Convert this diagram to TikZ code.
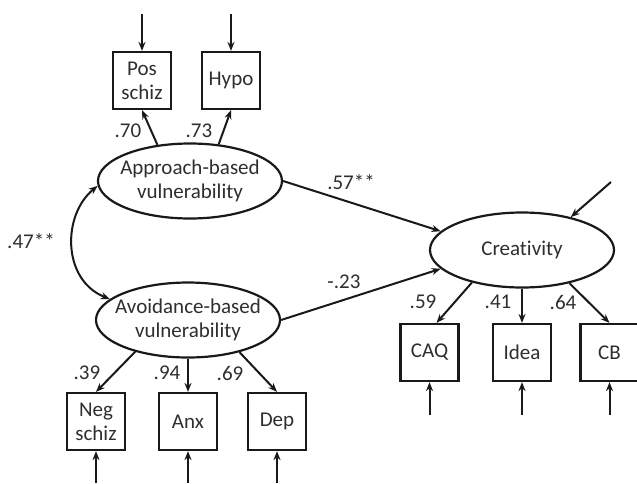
\documentclass[tikz,border=0pt]{standalone}
\usepackage{fontspec}
\setmainfont{Carlito}[Ligatures={NoCommon}]
\usetikzlibrary{shapes.geometric,arrows.meta}
\newcommand{\fitw}[1]{\makebox[80pt]{#1}}
\begin{document}
\begin{tikzpicture}[x=1pt,y=-1pt,
  every node/.style={font=\fontsize{21}{24}\selectfont, text=black!82},
  latent/.style={ellipse, draw=black!90, line width=2.2pt, minimum width=184pt, minimum height=75pt, inner sep=0pt, align=center},
  obs/.style={rectangle, draw=black!90, line width=2.2pt, minimum width=58pt, minimum height=57pt, inner sep=0pt, align=center},
  arr/.style={draw=black!90, line width=2pt, -{Stealth[length=9pt,width=7pt]}},
  darr/.style={draw=black!90, line width=2pt, {Stealth[length=9pt,width=7pt]}-{Stealth[length=9pt,width=7pt]}},
  coef/.style={inner sep=0pt}
]
\useasboundingbox (0,0) rectangle (637,483);
% latent variables
\node[latent] (app) at (190,181) {\fitw{Approach-based}\\\fitw{vulnerability}};
\node[latent] (avo) at (188,320) {\fitw{Avoidance-based}\\\fitw{vulnerability}};
\node[latent] (cre) at (522,250) {Creativity};
% indicators
\node[obs] (pos) at (142,80.5) {Pos\\schiz};
\node[obs] (hyp) at (231,80.5) {Hypo};
\node[obs] (neg) at (96,421.5) {Neg\\schiz};
\node[obs] (anx) at (188,421.5) {Anx};
\node[obs] (dep) at (277,421.5) {Dep};
\node[obs] (caq) at (429.5,352.5) {CAQ};
\node[obs] (ide) at (522,352.5) {Idea};
\node[obs] (cb)  at (609.5,352.5) {CB};
% error terms (free ends)
\coordinate (epos) at (142,14);
\coordinate (ehyp) at (231,14);
\coordinate (eneg) at (96,483);
\coordinate (eanx) at (188,483);
\coordinate (edep) at (277,483);
\coordinate (ecaq) at (429.5,415);
\coordinate (eide) at (522,415);
\coordinate (ecb)  at (609.5,415);
\coordinate (ecre) at (611,182);
\draw[arr] (epos) -- (pos.north);
\draw[arr] (ehyp) -- (hyp.north);
\draw[arr] (eneg) -- (neg.south);
\draw[arr] (eanx) -- (anx.south);
\draw[arr] (edep) -- (dep.south);
\draw[arr] (ecaq) -- (caq.south);
\draw[arr] (eide) -- (ide.south);
\draw[arr] (ecb) -- (cb.south);
\draw[arr] (ecre) -- (cre.34);
% loadings
\draw[arr] (app.132) -- (pos.south);
\draw[arr] (app.52) -- (hyp.south);
\draw[arr] (avo.211) -- (neg.north);
\draw[arr] (avo.south) -- (anx.north);
\draw[arr] (avo.328) -- (dep.north);
\draw[arr] (cre.213) -- ([xshift=7pt]caq.north);
\draw[arr] (cre.south) -- (ide.north);
\draw[arr] (cre.325) -- (cb.north);
% structural paths
\draw[arr] (app.east) -- (cre.167);
\draw[arr] (avo.east) -- (cre.193);
\draw[darr] (app.183) .. controls (62,215) and (62,280) .. (avo.165);
% coefficients
\node[coef] at (128,131) {.70};
\node[coef] at (199,131) {.73};
\node[coef] at (31,241) {.47**};
\node[coef] at (351,182) {.57**};
\node[coef] at (344,282) {-.23};
\node[coef] at (423,302) {.59};
\node[coef] at (498,302) {.41};
\node[coef] at (563,302) {.64};
\node[coef] at (87,373) {.39};
\node[coef] at (167,373) {.94};
\node[coef] at (230,373) {.69};
\end{tikzpicture}
\end{document}
